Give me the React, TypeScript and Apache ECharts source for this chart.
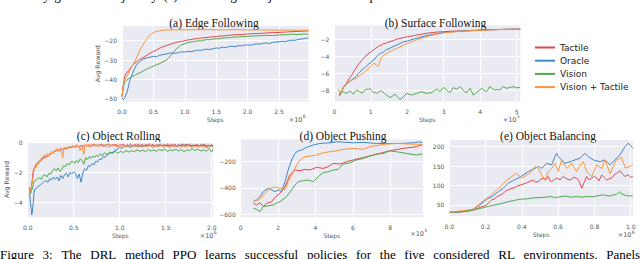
import React, { useEffect, useRef } from 'react';
import * as echarts from 'echarts';

const SERIES_NAMES = ['Tactile', 'Oracle', 'Vision', 'Vision + Tactile'];
const COLORS = ['#e2474b', '#3f88c5', '#4fa94d', '#fa9538'];

// ---------- tick values ----------
const aXTicks = [0, 0.5, 1, 1.5, 2, 2.5];
const aYTicks = [-50, -40, -30, -20];
const bXTicks = [0, 1, 2, 3, 4, 5];
const bYTicks = [-8, -6, -4, -2];
const cXTicks = [0, 0.5, 1, 1.5, 2];
const cYTicks = [-4, -2, 0];
const dXTicks = [0, 2, 4, 6, 8];
const dYTicks = [-600, -400, -200];
const eXTicks = [0, 0.2, 0.4, 0.6, 0.8, 1.0];
const eYTicks = [50, 100, 150, 200];

// ---------- (a) Edge Following, x in 1e6 steps ----------
const aTactile = [[0,-49],[0.02,-43],[0.04,-38.5],[0.06,-37.2],[0.09,-36],[0.12,-34.8],[0.15,-33.4],[0.18,-32.3],[0.22,-31.2],[0.26,-30.2],[0.3,-29.4],[0.35,-28.5],[0.4,-27.4],[0.45,-26.4],[0.5,-25.6],[0.55,-24.8],[0.6,-23.9],[0.65,-23.2],[0.7,-22.6],[0.75,-22.1],[0.8,-21.5],[0.85,-21.1],[0.9,-20.6],[0.95,-20.4],[1.0,-20.0],[1.05,-19.7],[1.1,-19.5],[1.15,-19.1],[1.2,-19.0],[1.25,-18.7],[1.3,-18.6],[1.4,-18.2],[1.5,-17.9],[1.6,-17.6],[1.7,-17.3],[1.8,-17.0],[1.9,-16.9],[2.0,-16.6],[2.1,-16.4],[2.2,-16.3],[2.3,-16.1],[2.4,-15.9],[2.5,-15.8],[2.6,-15.6],[2.7,-15.4],[2.8,-15.3],[2.9,-15.1],[2.97,-15.0]];
const aOracle = [[0,-49.5],[0.02,-50.3],[0.04,-49.8],[0.06,-48],[0.08,-46.5],[0.1,-44],[0.12,-41],[0.14,-39],[0.17,-36.8],[0.2,-34.5],[0.23,-32.5],[0.26,-31.5],[0.3,-30.3],[0.35,-29.4],[0.4,-28.8],[0.45,-28.5],[0.5,-28.1],[0.55,-28.3],[0.6,-27.5],[0.65,-27.2],[0.7,-26.9],[0.75,-26.5],[0.8,-26.3],[0.85,-26.6],[0.9,-26.1],[0.95,-25.8],[1.0,-25.9],[1.05,-25.5],[1.1,-25.7],[1.15,-25.3],[1.2,-24.9],[1.25,-25.1],[1.3,-24.6],[1.35,-24.4],[1.4,-24.6],[1.45,-24.1],[1.5,-23.8],[1.55,-23.9],[1.6,-23.4],[1.65,-23.6],[1.7,-23.1],[1.75,-22.9],[1.8,-23.1],[1.85,-22.6],[1.9,-22.7],[1.95,-22.3],[2.0,-22.2],[2.05,-22.4],[2.1,-21.9],[2.15,-21.7],[2.2,-21.8],[2.25,-21.4],[2.3,-21.2],[2.35,-21.5],[2.4,-20.9],[2.45,-20.8],[2.5,-20.6],[2.55,-20.3],[2.6,-20.5],[2.65,-20.0],[2.7,-19.8],[2.75,-19.9],[2.8,-19.5],[2.85,-19.2],[2.9,-19.0],[2.97,-18.6]];
const aVision = [[0,-48],[0.02,-44],[0.04,-41.5],[0.07,-40.5],[0.1,-39.8],[0.13,-39.2],[0.16,-38.5],[0.2,-37.9],[0.24,-37.2],[0.28,-36.6],[0.32,-36],[0.36,-35.2],[0.4,-34.6],[0.45,-33.8],[0.5,-33.2],[0.55,-32.4],[0.6,-31.8],[0.65,-30.9],[0.7,-30.2],[0.74,-29],[0.78,-27.5],[0.82,-26.2],[0.86,-24.5],[0.9,-23.2],[0.95,-22.1],[1.0,-21.6],[1.05,-21.0],[1.1,-20.7],[1.15,-20.4],[1.2,-20.1],[1.25,-20.2],[1.3,-19.8],[1.35,-19.5],[1.4,-19.6],[1.45,-19.2],[1.5,-19.0],[1.55,-19.1],[1.6,-18.7],[1.65,-18.5],[1.7,-18.6],[1.75,-18.3],[1.8,-18.1],[1.85,-18.2],[1.9,-17.9],[1.95,-18.0],[2.0,-17.8],[2.1,-17.6],[2.2,-17.5],[2.3,-17.3],[2.4,-17.4],[2.5,-17.1],[2.6,-17.0],[2.7,-16.7],[2.8,-16.9],[2.9,-16.6],[2.97,-16.8]];
const aVisionTactile = [[0,-48.8],[0.02,-43],[0.04,-40.5],[0.06,-39.2],[0.09,-37.5],[0.12,-35.5],[0.15,-33.8],[0.18,-32.2],[0.21,-30.5],[0.24,-28.2],[0.27,-26],[0.3,-24],[0.33,-22.5],[0.36,-20.8],[0.39,-19.3],[0.42,-18.1],[0.45,-17.1],[0.48,-16.3],[0.52,-15.6],[0.56,-15.2],[0.6,-14.9],[0.65,-14.7],[0.7,-14.6],[0.8,-14.5],[0.9,-14.4],[1.0,-14.5],[1.2,-14.4],[1.4,-14.4],[1.6,-14.5],[1.8,-14.4],[2.0,-14.5],[2.2,-14.5],[2.4,-14.6],[2.6,-14.6],[2.8,-14.7],[2.97,-14.7]];

// ---------- (b) Surface Following, x in 1e5 steps ----------
const bTactile = [[0.14,-8.7],[0.18,-8.4],[0.22,-8.0],[0.26,-7.6],[0.3,-7.4],[0.35,-7.1],[0.4,-6.7],[0.45,-6.4],[0.5,-6.1],[0.55,-5.7],[0.6,-5.4],[0.65,-5.0],[0.7,-4.8],[0.75,-4.5],[0.8,-4.3],[0.85,-4.0],[0.9,-3.9],[0.95,-3.6],[1.0,-3.5],[1.05,-3.3],[1.1,-3.2],[1.15,-3.0],[1.2,-2.9],[1.25,-2.7],[1.3,-2.7],[1.35,-2.5],[1.4,-2.5],[1.5,-2.3],[1.6,-2.2],[1.7,-2.0],[1.8,-1.9],[1.9,-1.8],[2.0,-1.7],[2.2,-1.55],[2.4,-1.4],[2.6,-1.25],[2.8,-1.15],[3.0,-1.1],[3.2,-1.05],[3.5,-1.0],[3.8,-0.95],[4.1,-0.9],[4.4,-0.85],[4.7,-0.82],[5.1,-0.8]];
const bOracle = [[0.14,-8.6],[0.2,-8.1],[0.25,-7.7],[0.3,-7.4],[0.35,-7.2],[0.4,-7.1],[0.45,-6.9],[0.5,-6.7],[0.55,-6.6],[0.6,-6.4],[0.65,-6.1],[0.7,-5.9],[0.75,-5.6],[0.8,-5.5],[0.85,-5.3],[0.9,-5.1],[0.95,-4.9],[1.0,-4.8],[1.05,-4.5],[1.1,-4.4],[1.15,-4.1],[1.2,-3.9],[1.25,-3.7],[1.3,-3.6],[1.35,-3.5],[1.4,-3.3],[1.5,-3.1],[1.6,-2.9],[1.7,-2.7],[1.8,-2.5],[1.9,-2.3],[2.0,-2.2],[2.2,-1.95],[2.4,-1.7],[2.6,-1.5],[2.8,-1.35],[3.0,-1.2],[3.2,-1.12],[3.5,-1.03],[3.8,-0.97],[4.1,-0.9],[4.4,-0.86],[4.7,-0.83],[5.1,-0.8]];
const bVision = [[0.14,-8.4],[0.2,-8.3],[0.25,-8.2],[0.3,-8.35],[0.34,-8.4],[0.39,-8.2],[0.43,-8.1],[0.48,-8.3],[0.52,-8.5],[0.57,-8.2],[0.61,-8.0],[0.66,-8.15],[0.7,-8.2],[0.75,-8.35],[0.79,-8.3],[0.84,-8.0],[0.89,-7.9],[0.94,-7.95],[0.98,-7.8],[1.03,-8.1],[1.07,-8.3],[1.12,-8.25],[1.16,-8.4],[1.23,-8.2],[1.3,-8.1],[1.37,-8.4],[1.43,-8.6],[1.48,-8.75],[1.53,-8.9],[1.6,-8.7],[1.66,-8.5],[1.73,-8.8],[1.8,-9.1],[1.85,-9.0],[1.89,-8.8],[1.94,-8.6],[1.98,-8.4],[2.05,-8.5],[2.12,-8.6],[2.19,-8.5],[2.26,-8.4],[2.33,-8.3],[2.39,-8.2],[2.46,-8.3],[2.53,-8.4],[2.6,-8.35],[2.67,-8.3],[2.74,-8.1],[2.8,-7.9],[2.85,-8.0],[2.89,-8.2],[2.94,-7.95],[2.99,-7.7],[3.04,-7.85],[3.08,-8.0],[3.13,-8.2],[3.17,-8.3],[3.22,-8.0],[3.26,-7.7],[3.3,-7.8],[3.35,-7.9],[3.4,-7.75],[3.44,-7.6],[3.49,-7.8],[3.53,-8.0],[3.58,-8.2],[3.63,-8.3],[3.67,-8.05],[3.72,-7.8],[3.77,-8.2],[3.81,-8.6],[3.86,-8.45],[3.9,-8.3],[3.97,-8.05],[4.04,-7.8],[4.1,-8.0],[4.17,-8.2],[4.22,-7.9],[4.26,-7.6],[4.33,-7.8],[4.4,-8.0],[4.47,-7.95],[4.54,-8.0],[4.58,-7.8],[4.63,-7.6],[4.68,-7.7],[4.72,-7.8],[4.81,-7.7],[4.9,-7.6],[5.0,-7.75],[5.09,-7.7]];
const bVisionTactile = [[0.1,-8.0],[0.14,-8.05],[0.18,-8.3],[0.22,-8.0],[0.26,-7.6],[0.3,-7.5],[0.35,-7.2],[0.4,-7.0],[0.45,-6.9],[0.5,-6.8],[0.55,-6.7],[0.6,-6.6],[0.65,-6.4],[0.7,-6.3],[0.75,-6.1],[0.8,-6.0],[0.85,-5.8],[0.9,-5.6],[0.95,-5.4],[1.0,-5.2],[1.05,-5.0],[1.1,-4.8],[1.15,-5.1],[1.2,-5.2],[1.25,-4.6],[1.3,-4.1],[1.35,-3.9],[1.4,-3.8],[1.5,-3.5],[1.6,-3.3],[1.7,-3.1],[1.8,-2.9],[1.9,-2.7],[2.0,-2.5],[2.2,-2.15],[2.4,-1.85],[2.6,-1.6],[2.8,-1.4],[3.0,-1.25],[3.2,-1.15],[3.5,-1.05],[3.8,-0.98],[4.1,-0.92],[4.4,-0.87],[4.7,-0.83],[5.1,-0.8]];

// ---------- (c) Object Rolling, x in 1e6 steps ----------
const cTactile = [[0.02,-3.0],[0.03,-3.4],[0.04,-2.9],[0.05,-2.5],[0.06,-1.9],[0.07,-1.7],[0.08,-1.6],[0.09,-1.45],[0.1,-1.5],[0.11,-1.35],[0.12,-1.3],[0.13,-1.2],[0.14,-1.25],[0.15,-1.1],[0.16,-1.15],[0.17,-1.0],[0.18,-1.05],[0.19,-0.95],[0.2,-1.0],[0.21,-0.9],[0.22,-0.95],[0.24,-0.8],[0.26,-0.75],[0.28,-0.62],[0.3,-0.6],[0.32,-0.55],[0.34,-0.5],[0.36,-0.52],[0.38,-0.42],[0.4,-0.45],[0.42,-0.38],[0.44,-0.4],[0.46,-0.3],[0.48,-0.35],[0.5,-0.28],[0.52,-0.32],[0.54,-0.22],[0.56,-0.3],[0.58,-0.2],[0.6,-0.27],[0.62,-0.18],[0.64,-0.25],[0.66,-0.15],[0.68,-0.3],[0.7,-0.2],[0.72,-0.12],[0.74,-0.25],[0.76,-0.15],[0.78,-0.22],[0.8,-0.12],[0.82,-0.28],[0.84,-0.15],[0.86,-0.2],[0.88,-0.1],[0.9,-0.25],[0.92,-0.15],[0.94,-0.22],[0.96,-0.12],[0.98,-0.3],[1.0,-0.15],[1.02,-0.2],[1.04,-0.12],[1.06,-0.3],[1.08,-0.15],[1.1,-0.22],[1.12,-0.1],[1.14,-0.28],[1.16,-0.14],[1.18,-0.2],[1.2,-0.1],[1.22,-0.25],[1.24,-0.12],[1.26,-0.3],[1.28,-0.15],[1.3,-0.2],[1.32,-0.1],[1.34,-0.22],[1.36,-0.13],[1.38,-0.3],[1.4,-0.15],[1.42,-0.2],[1.44,-0.1],[1.46,-0.25],[1.48,-0.15],[1.5,-0.22],[1.52,-0.1],[1.54,-0.28],[1.56,-0.14],[1.58,-0.2],[1.6,-0.12],[1.62,-0.3],[1.64,-0.15],[1.66,-0.22],[1.68,-0.1],[1.7,-0.25],[1.72,-0.12],[1.74,-0.2],[1.76,-0.1],[1.78,-0.28],[1.8,-0.15],[1.82,-0.22],[1.84,-0.12],[1.86,-0.3],[1.88,-0.15],[1.9,-0.2],[1.92,-0.12],[1.94,-0.35],[1.96,-0.18],[1.98,-0.25],[2.0,-0.15],[2.014,-0.3]];
const cOracle = [[0.02,-3.4],[0.03,-4.0],[0.04,-4.5],[0.045,-4.8],[0.05,-4.6],[0.06,-4.0],[0.07,-3.3],[0.08,-3.1],[0.1,-3.0],[0.12,-2.9],[0.14,-2.8],[0.16,-2.7],[0.18,-2.6],[0.2,-2.55],[0.22,-2.65],[0.24,-2.4],[0.26,-2.5],[0.28,-2.3],[0.3,-2.45],[0.32,-2.3],[0.34,-2.55],[0.36,-2.2],[0.38,-2.4],[0.4,-2.15],[0.42,-2.05],[0.44,-2.3],[0.46,-2.0],[0.48,-2.1],[0.5,-1.95],[0.52,-2.05],[0.54,-2.4],[0.56,-2.1],[0.58,-2.65],[0.6,-2.0],[0.62,-1.75],[0.64,-1.85],[0.66,-1.55],[0.68,-1.6],[0.7,-1.4],[0.72,-1.5],[0.74,-1.25],[0.76,-1.3],[0.78,-1.1],[0.8,-1.15],[0.82,-0.95],[0.84,-1.0],[0.86,-0.85],[0.88,-0.8],[0.9,-0.65],[0.92,-0.7],[0.94,-0.55],[0.96,-0.5],[0.98,-0.45],[1.0,-0.35],[1.02,-0.4],[1.04,-0.3],[1.07,-0.25],[1.1,-0.3],[1.15,-0.22],[1.2,-0.28],[1.3,-0.2],[1.4,-0.25],[1.5,-0.2],[1.6,-0.25],[1.7,-0.18],[1.8,-0.22],[1.9,-0.2],[2.014,-0.22]];
const cVision = [[0.02,-3.25],[0.03,-3.4],[0.04,-3.2],[0.05,-3.1],[0.06,-2.8],[0.07,-2.6],[0.09,-2.5],[0.11,-2.4],[0.13,-2.35],[0.15,-2.45],[0.17,-2.2],[0.19,-2.15],[0.21,-2.3],[0.23,-2.05],[0.25,-2.1],[0.27,-1.9],[0.29,-1.75],[0.31,-1.9],[0.33,-1.7],[0.35,-1.95],[0.37,-1.8],[0.39,-1.55],[0.41,-1.6],[0.43,-1.4],[0.45,-1.5],[0.47,-1.3],[0.49,-1.25],[0.51,-1.4],[0.53,-1.2],[0.55,-1.35],[0.57,-1.1],[0.59,-1.2],[0.61,-1.45],[0.63,-1.0],[0.65,-1.15],[0.67,-0.95],[0.69,-1.05],[0.71,-0.9],[0.73,-1.0],[0.75,-0.85],[0.77,-0.95],[0.79,-0.75],[0.81,-0.9],[0.83,-0.7],[0.86,-0.8],[0.89,-0.65],[0.92,-0.75],[0.95,-0.6],[0.98,-0.72],[1.01,-0.6],[1.04,-0.68],[1.07,-0.55],[1.1,-0.65],[1.13,-0.55],[1.16,-0.62],[1.19,-0.5],[1.22,-0.6],[1.25,-0.52],[1.28,-0.62],[1.31,-0.48],[1.34,-0.58],[1.37,-0.5],[1.4,-0.6],[1.43,-0.48],[1.46,-0.55],[1.49,-0.45],[1.52,-0.6],[1.55,-0.5],[1.58,-0.55],[1.61,-0.45],[1.64,-0.58],[1.67,-0.48],[1.7,-0.62],[1.73,-0.5],[1.76,-0.55],[1.79,-0.42],[1.82,-0.55],[1.85,-0.45],[1.88,-0.58],[1.91,-0.5],[1.94,-0.6],[1.97,-0.42],[2.0,-0.65],[2.014,-0.45]];
const cVisionTactile = [[0.02,-3.1],[0.03,-3.3],[0.04,-3.0],[0.05,-2.6],[0.06,-2.2],[0.07,-1.8],[0.08,-1.6],[0.09,-1.7],[0.1,-1.4],[0.11,-1.3],[0.12,-1.45],[0.13,-1.2],[0.14,-1.3],[0.15,-1.0],[0.16,-1.15],[0.17,-0.9],[0.18,-0.85],[0.19,-1.0],[0.2,-0.8],[0.21,-0.75],[0.22,-0.95],[0.24,-0.7],[0.26,-0.6],[0.28,-0.75],[0.3,-0.5],[0.32,-0.4],[0.34,-0.6],[0.36,-0.35],[0.38,-1.05],[0.39,-0.5],[0.41,-0.3],[0.43,-0.45],[0.45,-0.25],[0.47,-0.35],[0.49,-0.2],[0.51,-0.3],[0.53,-0.15],[0.55,-0.25],[0.57,-0.55],[0.59,-0.2],[0.61,-0.8],[0.62,-0.25],[0.64,-0.15],[0.66,-0.3],[0.68,-0.12],[0.7,-0.2],[0.72,-0.28],[0.74,-0.15],[0.76,-0.32],[0.78,-0.18],[0.8,-0.25],[0.82,-0.12],[0.84,-0.3],[0.86,-0.2],[0.88,-0.35],[0.9,-0.15],[0.92,-0.25],[0.94,-0.12],[0.96,-0.3],[0.98,-0.2],[1.0,-0.28],[1.03,-0.2],[1.06,-0.3],[1.09,-0.22],[1.12,-0.35],[1.15,-0.22],[1.18,-0.3],[1.21,-0.2],[1.24,-0.33],[1.27,-0.24],[1.3,-0.3],[1.33,-0.2],[1.36,-0.35],[1.39,-0.25],[1.42,-0.3],[1.45,-0.2],[1.48,-0.33],[1.51,-0.24],[1.54,-0.35],[1.57,-0.22],[1.6,-0.28],[1.63,-0.2],[1.66,-0.35],[1.69,-0.24],[1.72,-0.3],[1.75,-0.22],[1.78,-0.36],[1.81,-0.25],[1.84,-0.32],[1.87,-0.22],[1.9,-0.3],[1.93,-0.24],[1.96,-0.38],[1.99,-0.25],[2.014,-0.32]];

// ---------- (d) Object Pushing, x in 1e5 steps ----------
const dTactile = [[0.68,-516],[0.85,-529],[1.03,-511],[1.21,-541],[1.39,-516],[1.65,-504],[1.83,-471],[2.1,-440],[2.37,-390],[2.63,-301],[2.9,-263],[3.17,-268],[3.43,-258],[3.7,-263],[4.06,-243],[4.41,-251],[4.68,-238],[4.95,-213],[5.3,-218],[5.66,-200],[6.01,-187],[6.37,-175],[6.9,-157],[7.44,-137],[7.97,-117],[8.68,-99],[9.4,-86],[9.72,-70]];
const dOracle = [[0.68,-504],[0.85,-491],[1.03,-466],[1.21,-428],[1.48,-402],[1.65,-415],[1.83,-428],[2.01,-415],[2.19,-428],[2.37,-352],[2.54,-263],[2.72,-187],[2.9,-137],[3.08,-117],[3.26,-111],[3.52,-91],[3.88,-73],[4.23,-61],[4.77,-56],[5.2,-48],[5.48,-51],[6.01,-56],[6.55,-53],[7.26,-61],[7.97,-62],[8.68,-61],[9.2,-56],[9.5,-50],[9.72,-52]];
const dVision = [[0.68,-554],[0.85,-562],[1.03,-580],[1.21,-541],[1.48,-536],[1.74,-529],[1.92,-516],[2.19,-496],[2.45,-466],[2.72,-415],[2.9,-377],[3.08,-352],[3.35,-344],[3.61,-339],[3.88,-352],[4.15,-314],[4.41,-283],[4.68,-276],[4.95,-263],[5.21,-258],[5.48,-218],[5.84,-208],[6.19,-187],[6.55,-175],[6.9,-157],[7.26,-142],[7.62,-137],[7.97,-117],[8.33,-124],[8.86,-137],[9.4,-149],[9.72,-140]];
const dVisionTactile = [[0.68,-491],[0.85,-496],[1.03,-486],[1.3,-440],[1.57,-402],[1.83,-395],[2.1,-402],[2.37,-415],[2.54,-352],[2.81,-276],[2.99,-225],[3.17,-187],[3.43,-162],[3.7,-157],[4.06,-149],[4.41,-132],[4.77,-124],[5.12,-117],[5.48,-106],[6.01,-99],[6.55,-106],[6.9,-86],[7.62,-68],[8.33,-61],[9.04,-66],[9.72,-68]];

// ---------- (e) Object Balancing, x in 1e6 steps ----------
const eTactile = [[0,31],[0.04,31],[0.077,33],[0.11,35],[0.132,37],[0.15,40],[0.169,44],[0.19,47],[0.206,50],[0.22,57],[0.233,63],[0.25,66],[0.261,71],[0.28,75],[0.298,80],[0.31,86],[0.325,89],[0.34,92],[0.362,95],[0.375,99],[0.39,101],[0.41,104],[0.426,107],[0.445,111],[0.463,114],[0.475,109],[0.491,110],[0.505,116],[0.518,119],[0.53,114],[0.546,123],[0.556,112],[0.564,110],[0.58,116],[0.592,119],[0.61,115],[0.629,123],[0.645,118],[0.665,114],[0.685,121],[0.702,119],[0.715,112],[0.73,93],[0.745,110],[0.757,123],[0.77,115],[0.785,119],[0.8,124],[0.813,119],[0.825,112],[0.84,127],[0.855,120],[0.868,114],[0.88,117],[0.895,119],[0.91,128],[0.923,131],[0.941,138],[0.955,130],[0.969,123],[0.985,128],[1.0,121],[1.012,123]];
const eOracle = [[0,31],[0.077,33],[0.132,39],[0.169,50],[0.206,65],[0.233,71],[0.27,84],[0.298,93],[0.325,106],[0.353,113],[0.38,119],[0.408,127],[0.436,136],[0.463,142],[0.491,149],[0.509,144],[0.537,157],[0.564,153],[0.583,175],[0.592,183],[0.6,175],[0.61,170],[0.637,157],[0.665,161],[0.693,166],[0.72,170],[0.748,183],[0.766,174],[0.794,166],[0.831,161],[0.858,166],[0.886,153],[0.913,166],[0.941,179],[0.969,200],[0.987,209],[1.0,202],[1.012,196]];
const eVision = [[0,31],[0.05,32],[0.11,35],[0.17,41],[0.22,47],[0.28,53],[0.33,59],[0.37,63],[0.4,65],[0.43,66],[0.46,68],[0.5,69],[0.53,70],[0.56,72],[0.58,69],[0.61,71],[0.64,73],[0.67,70],[0.7,72],[0.73,70],[0.76,72],[0.79,71],[0.82,74],[0.85,76],[0.88,73],[0.9,75],[0.92,77],[0.94,84],[0.95,78],[0.97,75],[0.99,73],[1.012,74]];
const eVisionTactile = [[0,31],[0.132,39],[0.169,54],[0.206,67],[0.233,76],[0.261,89],[0.289,101],[0.316,114],[0.344,123],[0.371,131],[0.399,119],[0.426,127],[0.454,136],[0.472,149],[0.491,144],[0.509,127],[0.528,114],[0.546,136],[0.564,144],[0.583,157],[0.601,136],[0.619,166],[0.647,144],[0.675,157],[0.702,136],[0.721,153],[0.739,161],[0.757,136],[0.785,123],[0.813,153],[0.84,144],[0.858,166],[0.886,131],[0.92,165],[0.95,172],[0.97,145],[1.0,150],[1.012,153]];

const SANS = 'DejaVu Sans';
const SERIF_FONT = (px: number) => `${px}px "Liberation Serif", "Times New Roman", serif`;
const TICK_COLOR = '#555';

const minus = (v: number) => (v < 0 ? '\u2212' + Math.abs(v) : String(v));

const PANELS = [
  { title: '(a) Edge Following', tx: 214, ty: 23, grid: { left: 122, top: 26, width: 186.5, height: 75.5 },
    x: { min: 0, max: 2.97, ticks: aXTicks, dec: 1 }, y: { min: -51.3, max: -12.5, ticks: aYTicks },
    yName: true, yNameGap: 20, exp: '6', ex: 302.5, ey: 119.5, series: [aTactile, aOracle, aVision, aVisionTactile] },
  { title: '(b) Surface Following', tx: 435.5, ty: 23, grid: { left: 334.3, top: 25.5, width: 186, height: 76 },
    x: { min: 0, max: 5.1, ticks: bXTicks, dec: 0 }, y: { min: -9.36, max: -0.37, ticks: bYTicks },
    yName: false, yNameGap: 0, exp: '5', ex: 516.5, ey: 119.5, series: [bTactile, bOracle, bVision, bVisionTactile] },
  { title: '(c) Object Rolling', tx: 118.7, ty: 135.5, grid: { left: 27.7, top: 141.7, width: 185.3, height: 75.6 },
    x: { min: 0, max: 2.014, ticks: cXTicks, dec: 1 }, y: { min: -4.97, max: 0.04, ticks: cYTicks },
    yName: true, yNameGap: 18, exp: '6', ex: 213.5, ey: 235.5, series: [cTactile, cOracle, cVision, cVisionTactile] },
  { title: '(d) Object Pushing', tx: 343, ty: 135.5, grid: { left: 240.7, top: 139.5, width: 182.3, height: 77.8 },
    x: { min: 0, max: 9.75, ticks: dXTicks, dec: 0 }, y: { min: -623, max: -31, ticks: dYTicks },
    yName: false, yNameGap: 0, exp: '5', ex: 424, ey: 233.5, series: [dTactile, dOracle, dVision, dVisionTactile] },
  { title: '(e) Object Balancing', tx: 548, ty: 135.5, grid: { left: 449.3, top: 140, width: 183.7, height: 76 },
    x: { min: 0, max: 1.0127, ticks: eXTicks, dec: 1 }, y: { min: 21.7, max: 217, ticks: eYTicks },
    yName: false, yNameGap: 0, exp: '6', ex: 631.5, ey: 235, series: [eTactile, eOracle, eVision, eVisionTactile] },
];

const CAPTION_TOP = 'randomly-generated trajectory. (e) Stabilising an object on the sensor tip.';
const CAPTION_BOTTOM = ['Figure', '3:', 'The', 'DRL', 'method', 'PPO', 'learns', 'successful', 'policies', 'for', 'the', 'five', 'considered', 'RL', 'environments.', 'Panels'];

function buildOption() {
  const grid: any[] = [];
  const xAxis: any[] = [];
  const yAxis: any[] = [];
  const series: any[] = [];
  const graphic: any[] = [];

  PANELS.forEach((p, i) => {
    grid.push({ ...p.grid, show: true, backgroundColor: '#EAEAF2', borderWidth: 0, containLabel: false, outerBoundsMode: 'none' });
    xAxis.push({
      type: 'value', gridIndex: i, min: p.x.min, max: p.x.max,
      axisLine: { show: false },
      axisTick: { show: false, customValues: p.x.ticks },
      axisLabel: { customValues: p.x.ticks, fontSize: 6, color: TICK_COLOR, fontFamily: SANS, margin: 7,
        formatter: (v: number) => v.toFixed(p.x.dec) },
      splitLine: { show: true, lineStyle: { color: '#ffffff', width: 1 } },
      name: 'Steps', nameLocation: 'middle', nameGap: 15,
      nameTextStyle: { fontSize: 6, color: TICK_COLOR, fontFamily: SANS },
    });
    yAxis.push({
      type: 'value', gridIndex: i, min: p.y.min, max: p.y.max,
      axisLine: { show: false },
      axisTick: { show: false, customValues: p.y.ticks },
      axisLabel: { customValues: p.y.ticks, fontSize: 6, color: TICK_COLOR, fontFamily: SANS, margin: 5,
        formatter: (v: number) => minus(v) },
      splitLine: { show: true, lineStyle: { color: '#ffffff', width: 1 } },
      name: p.yName ? 'Avg Reward' : '', nameLocation: 'middle', nameGap: p.yNameGap, nameRotate: 90,
      nameTextStyle: { fontSize: 6.3, color: TICK_COLOR, fontFamily: SANS },
    });
    p.series.forEach((data, k) => {
      series.push({
        type: 'line', name: SERIES_NAMES[k], xAxisIndex: i, yAxisIndex: i, data,
        showSymbol: false, symbol: 'none', clip: true,
        lineStyle: { color: COLORS[k], width: 1 }, itemStyle: { color: COLORS[k] },
        emphasis: { disabled: true },
      });
    });
    graphic.push({ type: 'text', x: p.tx, y: p.ty, style: { text: p.title, fill: '#111', font: SERIF_FONT(11.5), align: 'center', verticalAlign: 'middle' } });
    graphic.push({ type: 'text', x: p.ex, y: p.ey, style: { text: '\u00d710', fill: TICK_COLOR, fontSize: 6.5, fontFamily: SANS, align: 'right', verticalAlign: 'middle' } });
    graphic.push({ type: 'text', x: p.ex + 0.3, y: p.ey - 2.8, style: { text: p.exp, fill: TICK_COLOR, fontSize: 4.6, fontFamily: SANS, align: 'left', verticalAlign: 'middle' } });
  });

  graphic.push({ type: 'text', x: 0, y: 1.5, style: { text: CAPTION_TOP, fill: '#000', font: SERIF_FONT(13), align: 'left', verticalAlign: 'bottom' } });
  graphic.push({ type: 'text', x: 0, y: 261, style: { text: CAPTION_BOTTOM.join('\u2002\u2006'), fill: '#000', font: SERIF_FONT(13), align: 'left', verticalAlign: 'bottom' } });

  return {
    animation: false,
    backgroundColor: '#ffffff',
    grid, xAxis, yAxis, series, graphic,
    legend: {
      show: true, orient: 'vertical', left: 535, top: 42.5, padding: 0,
      data: SERIES_NAMES.map((n, k) => ({ name: n, itemStyle: { color: COLORS[k] } })),
      icon: 'rect', itemWidth: 20, itemHeight: 2, itemGap: 3.2,
      textStyle: { fontSize: 9, color: '#222', fontFamily: SANS, lineHeight: 10 },
      selectedMode: false,
    },
  };
}

export default function App() {
  const ref = useRef<HTMLDivElement>(null);
  useEffect(() => {
    document.body.style.margin = '0';
    const chart = echarts.init(ref.current as HTMLDivElement, null, { renderer: 'svg' });
    chart.setOption(buildOption() as any);
    return () => chart.dispose();
  }, []);
  return <div ref={ref} style={{ width: 640, height: 259 }} />;
}
